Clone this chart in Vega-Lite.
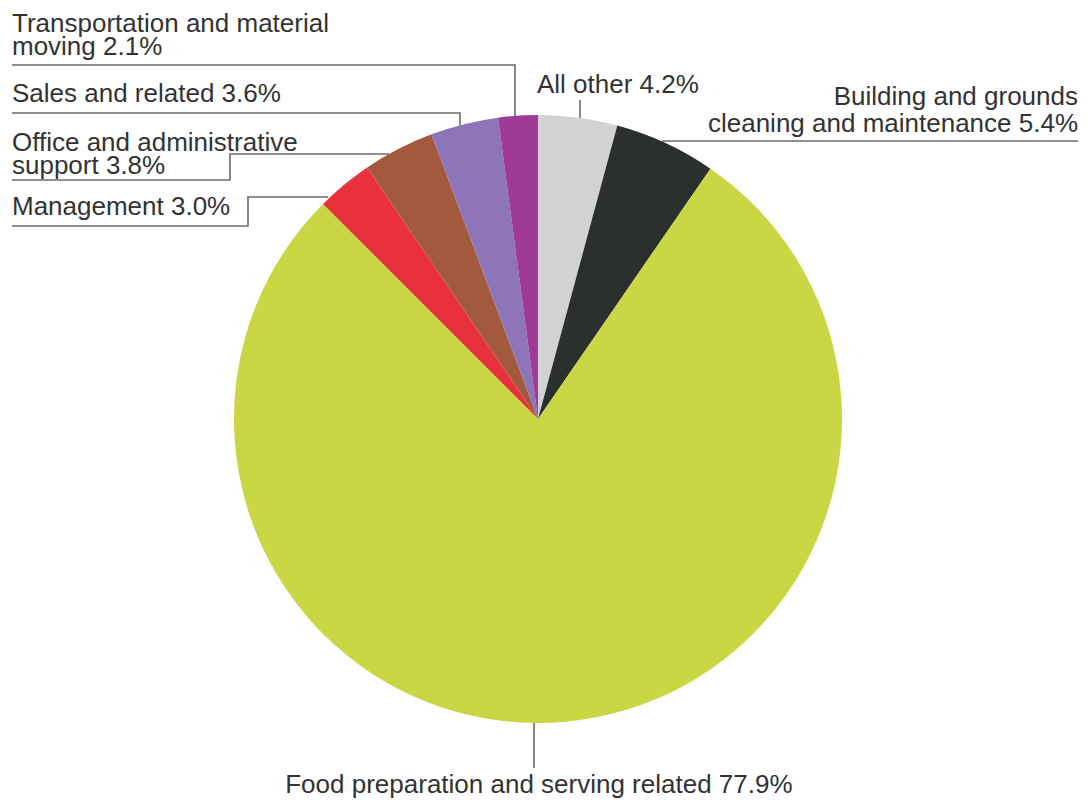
{
  "$schema": "https://vega.github.io/schema/vega-lite/v6.json",
  "width": 1088,
  "height": 804,
  "padding": 0,
  "autosize": {"type": "none"},
  "background": "white",
  "config": {"view": {"stroke": null}},
  "datasets": {
    "slices": [
      {"category": "All other", "percent": 4.2, "order": 1},
      {"category": "Building and grounds cleaning and maintenance", "percent": 5.4, "order": 2},
      {"category": "Food preparation and serving related", "percent": 77.9, "order": 3},
      {"category": "Management", "percent": 3.0, "order": 4},
      {"category": "Office and administrative support", "percent": 3.8, "order": 5},
      {"category": "Sales and related", "percent": 3.6, "order": 6},
      {"category": "Transportation and material moving", "percent": 2.1, "order": 7}
    ],
    "labels": [
      {"line": "Transportation and material\nmoving 2.1%", "lx": -173.03, "ly": 127.30, "anchor": "left"},
      {"line": "Sales and related 3.6%", "lx": -173.03, "ly": 104.28, "anchor": "left"},
      {"line": "Office and administrative\nsupport 3.8%", "lx": -173.03, "ly": 88.16, "anchor": "left"},
      {"line": "Management 3.0%", "lx": -173.03, "ly": 67.11, "anchor": "left"},
      {"line": "All other 4.2%", "lx": -0.33, "ly": 107.24, "anchor": "left"},
      {"line": "Building and grounds\ncleaning and maintenance 5.4%", "lx": 177.63, "ly": 103.29, "anchor": "right"},
      {"line": "Food preparation and serving related 77.9%", "lx": 0.3, "ly": -123.03, "anchor": "center"}
    ],
    "leaders": [
      {"seg": "Transportation", "i": 1, "lx": -173.03, "ly": 116.45},
      {"seg": "Transportation", "i": 2, "lx": -7.57, "ly": 116.45},
      {"seg": "Transportation", "i": 3, "lx": -7.57, "ly": 99.7},
      {"seg": "Sales", "i": 1, "lx": -173.03, "ly": 100.66},
      {"seg": "Sales", "i": 2, "lx": -25.66, "ly": 100.66},
      {"seg": "Sales", "i": 3, "lx": -25.66, "ly": 96.5},
      {"seg": "Office", "i": 1, "lx": -173.03, "ly": 78.62},
      {"seg": "Office", "i": 2, "lx": -101.32, "ly": 78.62},
      {"seg": "Office", "i": 3, "lx": -101.32, "ly": 87.17},
      {"seg": "Office", "i": 4, "lx": -49.0, "ly": 87.17},
      {"seg": "Management", "i": 1, "lx": -173.03, "ly": 63.49},
      {"seg": "Management", "i": 2, "lx": -95.39, "ly": 63.49},
      {"seg": "Management", "i": 3, "lx": -95.39, "ly": 73.03},
      {"seg": "Management", "i": 4, "lx": -69.0, "ly": 73.03},
      {"seg": "All other", "i": 1, "lx": 13.82, "ly": 104.93},
      {"seg": "All other", "i": 2, "lx": 13.82, "ly": 99.0},
      {"seg": "Building", "i": 1, "lx": 40.8, "ly": 91.45},
      {"seg": "Building", "i": 2, "lx": 177.63, "ly": 91.45},
      {"seg": "Food", "i": 1, "lx": -1.32, "ly": -100},
      {"seg": "Food", "i": 2, "lx": -1.32, "ly": -114.8}
    ]
  },
  "layer": [
    {
      "data": {"name": "leaders"},
      "mark": {"type": "line", "color": "#6b6b6b", "strokeWidth": 1.6, "interpolate": "linear"},
      "encoding": {
        "x": {"field": "lx", "type": "quantitative", "scale": {"domain": [-176.97, 180.92], "nice": false, "zero": false}, "axis": null},
        "y": {"field": "ly", "type": "quantitative", "scale": {"domain": [-126.64, 137.83], "nice": false, "zero": false}, "axis": null},
        "detail": {"field": "seg"},
        "order": {"field": "i"}
      }
    },
    {
      "data": {"name": "slices"},
      "mark": {"type": "arc", "outerRadius": 304, "stroke": null},
      "encoding": {
        "x": {"datum": 0, "type": "quantitative"},
        "y": {"datum": 0, "type": "quantitative"},
        "theta": {"field": "percent", "type": "quantitative", "stack": true},
        "order": {"field": "order"},
        "color": {
          "field": "category",
          "type": "nominal",
          "legend": null,
          "scale": {
            "domain": [
              "All other",
              "Building and grounds cleaning and maintenance",
              "Food preparation and serving related",
              "Management",
              "Office and administrative support",
              "Sales and related",
              "Transportation and material moving"
            ],
            "range": ["#d2d2d2", "#2b2f2d", "#c8d743", "#e8313a", "#a35a3c", "#8e74b9", "#a03a98"]
          }
        }
      }
    },
    {
      "data": {"name": "labels"},
      "transform": [{"filter": "datum.anchor === 'left'"}],
      "mark": {"type": "text", "align": "left", "baseline": "alphabetic", "font": "Liberation Sans", "fontSize": 26, "lineHeight": 23, "lineBreak": "\n", "color": "#333333"},
      "encoding": {
        "x": {"field": "lx", "type": "quantitative"},
        "y": {"field": "ly", "type": "quantitative"},
        "text": {"field": "line"}
      }
    },
    {
      "data": {"name": "labels"},
      "transform": [{"filter": "datum.anchor === 'right'"}],
      "mark": {"type": "text", "align": "right", "baseline": "alphabetic", "font": "Liberation Sans", "fontSize": 26, "lineHeight": 27, "lineBreak": "\n", "color": "#333333"},
      "encoding": {
        "x": {"field": "lx", "type": "quantitative"},
        "y": {"field": "ly", "type": "quantitative"},
        "text": {"field": "line"}
      }
    },
    {
      "data": {"name": "labels"},
      "transform": [{"filter": "datum.anchor === 'center'"}],
      "mark": {"type": "text", "align": "center", "baseline": "alphabetic", "font": "Liberation Sans", "fontSize": 26, "color": "#333333"},
      "encoding": {
        "x": {"field": "lx", "type": "quantitative"},
        "y": {"field": "ly", "type": "quantitative"},
        "text": {"field": "line"}
      }
    }
  ]
}
